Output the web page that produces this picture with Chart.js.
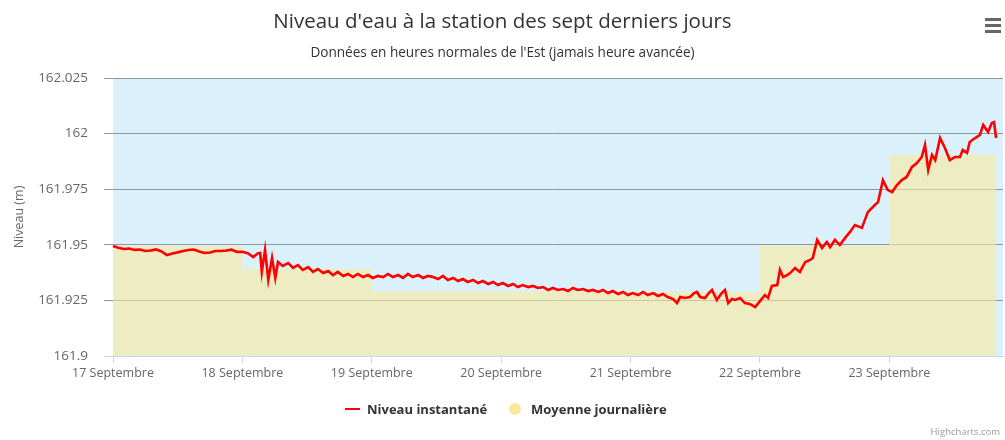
<!DOCTYPE html>
<html lang="fr">
<head>
<meta charset="utf-8">
<title>Niveau d'eau à la station</title>
<script src="https://cdn.jsdelivr.net/npm/chart.js@4.4.1/dist/chart.umd.min.js"></script>
<style>
  html, body { margin: 0; padding: 0; background: #fff; }
  #wrap { position: relative; width: 1005px; height: 440px; font-family: "Open Sans", sans-serif; overflow: hidden; }
  #graph { position: absolute; left: 0; top: 0; }
  .titre { position: absolute; left: 0; top: 6px; width: 1005px; text-align: center; font-size: 20.5px; color: #333; }
  .sous-titre { position: absolute; left: 0; top: 42px; width: 1005px; text-align: center; font-size: 13.6px; color: #333; }
  .menu { position: absolute; left: 985px; top: 18px; width: 16px; }
  .menu span { display: block; height: 3px; background: #666; margin-bottom: 3px; }
  .leg { position: absolute; top: 400px; font-size: 13px; font-weight: bold; color: #333; white-space: nowrap; }
  .leg-ligne { position: absolute; left: 345px; top: 408px; width: 15px; height: 2px; background: #ff0000; }
  .leg-rond { position: absolute; left: 509px; top: 403px; width: 12px; height: 12px; border-radius: 50%; background: rgb(250,233,155); }
  .credits { position: absolute; right: 5px; top: 425px; font-size: 9.5px; color: #999; }
</style>
</head>
<body>
<div id="wrap">
  <canvas id="graph" width="1005" height="440"></canvas>
  <div class="titre">Niveau d'eau à la station des sept derniers jours</div>
  <div class="sous-titre">Données en heures normales de l'Est (jamais heure avancée)</div>
  <div class="menu"><span></span><span></span><span></span></div>
  <div class="leg-ligne"></div>
  <div class="leg" style="left:367px">Niveau instantané</div>
  <div class="leg-rond"></div>
  <div class="leg" style="left:531px">Moyenne journalière</div>
  <div class="credits">Highcharts.com</div>
</div>
<script>
/* Niveau d'eau - 7 derniers jours (heures depuis le 17 sept. 00:00) */

const jours = ['17 Septembre', '18 Septembre', '19 Septembre', '20 Septembre',
  '21 Septembre', '22 Septembre', '23 Septembre'];

const niveauTicks = [161.9, 161.925, 161.95, 161.975, 162, 162.025];
const niveauTickLabels = ['161.9', '161.925', '161.95', '161.975', '162', '162.025'];

// [heure, niveau (m)]
const niveauInstantane = [
  [0,161.9495],[1,161.9487],[2,161.9481],[3,161.9483],[4,161.9477],[5,161.9479],[6,161.9472],[7,161.9474],
  [8,161.9479],[9,161.9470],[10,161.9454],[11,161.9461],[12,161.9466],[13,161.9472],[14,161.9477],[15,161.9479],
  [16,161.9470],[17,161.9463],[18,161.9465],[19,161.9472],[20,161.9472],[21,161.9474],[22,161.9478],[23,161.9468],
  [24,161.9469],[25,161.9462],[26,161.9445],[26.9,161.9462],[27.3,161.9463],[27.6,161.9378],[28.2,161.9477],
  [28.8,161.9342],[29.5,161.9441],[30.1,161.9351],[30.6,161.9423],[31.5,161.9405],[32.5,161.9418],[33.4,161.9396],
  [34.3,161.9409],[35.2,161.9387],[36.2,161.9400],[37.1,161.9378],[38,161.9391],[39,161.9373],[39.9,161.9382],
  [40.8,161.9364],[41.7,161.9378],[42.7,161.9360],[43.6,161.9369],[44.5,161.9355],[45.4,161.9369],[46.4,161.9355],
  [47.3,161.9364],[48.2,161.9351],[49.1,161.9360],[50.1,161.9355],[51,161.9369],[51.9,161.9355],[52.9,161.9364],
  [53.8,161.9351],[54.7,161.9369],[55.6,161.9355],[56.6,161.9364],[57.5,161.9351],[58.4,161.9360],[59.4,161.9355],
  [60.3,161.9346],[61.2,161.9360],[62.1,161.9342],[63.1,161.9351],[64,161.9337],[64.9,161.9346],[65.8,161.9333],
  [66.8,161.9342],[67.7,161.9328],[68.6,161.9337],[69.6,161.9324],[70.5,161.9333],[71.4,161.9319],[72.3,161.9328],
  [73.3,161.9315],[74.2,161.9324],[75.1,161.9310],[76,161.9319],[77,161.9310],[77.9,161.9315],[78.8,161.9306],
  [79.8,161.9310],[80.7,161.9297],[81.6,161.9306],[82.5,161.9297],[83.5,161.9301],[84.4,161.9292],[85.3,161.9306],
  [86.2,161.9297],[87.2,161.9301],[88.1,161.9292],[89,161.9297],[90,161.9288],[90.9,161.9297],[91.8,161.9283],
  [92.7,161.9292],[93.7,161.9279],[94.6,161.9288],[95.5,161.9274],[96.4,161.9283],[97.4,161.9274],[98.3,161.9288],
  [99.2,161.9274],[100.2,161.9283],[101.1,161.9270],[102,161.9279],[102.9,161.9265],[103.9,161.9256],[104.6,161.9238],
  [105.2,161.9265],[106.1,161.9261],[107,161.9265],[107.8,161.9283],[108.3,161.9288],[108.9,161.9265],[109.8,161.9261],
  [110.5,161.9283],[111.1,161.9297],[112,161.9252],[112.9,161.9283],[113.5,161.9297],[114.1,161.9238],[114.8,161.9256],
  [115.4,161.9252],[116.3,161.9261],[117.2,161.9238],[118.1,161.9234],[119.1,161.9220],[120,161.9247],[120.9,161.9274],
  [121.5,161.9261],[122.2,161.9315],[123.2,161.9319],[123.7,161.9387],[124.3,161.9355],[125,161.9364],[125.6,161.9373],
  [126.5,161.9396],[127.4,161.9378],[128.4,161.9423],[129.3,161.9432],[129.8,161.9441],[130.6,161.9522],[131.5,161.9486],
  [132.4,161.9513],[133,161.9490],[133.9,161.9522],[134.8,161.9499],[135.8,161.9531],[136.7,161.9558],[137.6,161.9589],
  [138.9,161.9576],[140,161.9647],[141.3,161.9679],[141.9,161.9692],[142.8,161.9791],[143.7,161.9746],[144.5,161.9737],
  [145.4,161.9769],[146.3,161.9791],[147.2,161.9805],[148.2,161.9850],[149.1,161.9868],[150,161.9895],[150.6,161.9949],
  [151.2,161.9836],[151.9,161.9904],[152.5,161.9881],[153.4,161.9980],[154.3,161.9935],[155.2,161.9881],[156.2,161.9895],
  [157.1,161.9895],[157.6,161.9926],[158.4,161.9913],[158.9,161.9962],[159.9,161.9980],[160.8,161.9994],[161.4,162.0039],
  [162.3,162.0007],[163,162.0048],[163.4,162.0052],[163.8,161.9980]
];

// moyenne de chaque jour (palier)
const moyenneJournaliere = [
  [0,161.9494],[24,161.9391],[48,161.9292],[72,161.9291],[96,161.9289],[120,161.9497],[144,161.9904],[163.8,161.9904]
];

const axeMin = -1.67;
const axeMax = 165.07;

// fond bleu de la zone de données
const bandePlugin = {
  id: 'bande',
  beforeDraw(chart) {
    const { ctx, chartArea, scales } = chart;
    const x0 = scales.x.getPixelForValue(niveauInstantane[0][0]);
    ctx.save();
    ctx.fillStyle = '#daf1fc';
    ctx.fillRect(x0, chartArea.top, chartArea.right - x0, chartArea.bottom - chartArea.top);
    ctx.restore();
  }
};

const police = { family: 'Open Sans', size: 12.5 };

new Chart(document.getElementById('graph'), {
  type: 'line',
  data: {
    datasets: [
      {
        label: 'Niveau instantané',
        data: niveauInstantane.map(p => ({ x: p[0], y: p[1] })),
        borderColor: '#ff0000',
        borderWidth: 2.6,
        pointRadius: 0,
        tension: 0,
        fill: false
      },
      {
        label: 'Moyenne journalière',
        data: moyenneJournaliere.map(p => ({ x: p[0], y: p[1] })),
        stepped: 'before',
        fill: 'start',
        backgroundColor: 'rgba(250,233,155,0.6)',
        borderWidth: 0,
        pointRadius: 0
      }
    ]
  },
  options: {
    responsive: false,
    animation: false,
    layout: { padding: { left: 8, top: 78, right: 2, bottom: 54 } },
    plugins: { legend: { display: false }, tooltip: { enabled: false } },
    scales: {
      x: {
        type: 'linear',
        min: axeMin,
        max: axeMax,
        afterBuildTicks: s => { s.ticks = jours.map((j, i) => ({ value: i * 24 })); },
        afterFit: s => { s.height = 30; },
        ticks: {
          callback: (v, i) => jours[i],
          autoSkip: false, maxRotation: 0,
          color: '#666', font: police, padding: 3
        },
        grid: { drawOnChartArea: false, tickLength: 7, color: '#ccd6eb' },
        border: { color: '#ccd6eb' }
      },
      y: {
        min: 161.9,
        max: 162.025,
        afterBuildTicks: s => { s.ticks = niveauTicks.map(v => ({ value: v })); },
        afterFit: s => { s.width = 96; },
        ticks: {
          callback: (v, i) => niveauTickLabels[i],
          color: '#666', font: { family: 'Open Sans', size: 13.5 }, padding: 16
        },
        grid: {
          drawTicks: false,
          color: c => (c.index === 0 ? 'rgba(0,0,0,0)' : '#8f969e')
        },
        border: { display: false },
        title: {
          display: true, text: 'Niveau (m)', color: '#666', font: police,
          padding: { top: 4, bottom: 0 }
        }
      }
    }
  },
  plugins: [bandePlugin]
});
</script>
</body>
</html>
